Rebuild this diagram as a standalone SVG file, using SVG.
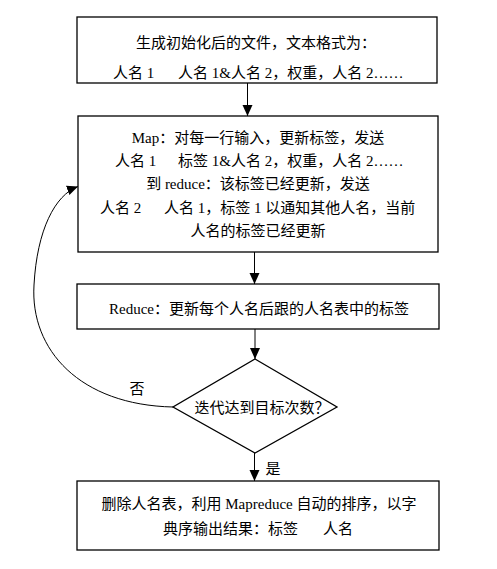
<svg xmlns="http://www.w3.org/2000/svg" width="497" height="569" viewBox="0 0 497 569">
<defs>
<marker id="ah" markerUnits="userSpaceOnUse" markerWidth="12" markerHeight="12" viewBox="0 0 12 12" refX="11" refY="6" orient="auto">
<path d="M0,1 L11,6 L0,11 Z" fill="#000"/>
</marker>
<style>
.box{fill:#fff;stroke:#000;stroke-width:1.3}
.t{font-family:'Liberation Serif','Noto Sans CJK SC',serif;font-size:15px;fill:#000}
.m{text-anchor:middle}
.c{fill:none;stroke:#000;stroke-width:1}
</style>
</defs>
<rect width="497" height="569" fill="#fff"/>
<g id="connectors">
<line class="c" x1="247.5" y1="83" x2="247.5" y2="116" marker-end="url(#ah)"/>
<line class="c" x1="254.5" y1="252" x2="254.5" y2="284" marker-end="url(#ah)"/>
<line class="c" x1="255" y1="329" x2="255" y2="359" marker-end="url(#ah)"/>
<line class="c" x1="254.5" y1="453" x2="254.5" y2="481" marker-end="url(#ah)"/>
<path class="c" d="M173,407 C80,405 30,350 34,285 C37,230 55,195 78,186.5" marker-end="url(#ah)"/>
<text class="t m" x="137" y="393.5">否</text>
<text class="t m" x="273" y="473.5">是</text>
</g>
<g id="n1">
<rect class="box" x="77" y="17" width="360" height="66"/>
<text class="t m" x="256" y="47.5">生成初始化后的文件，文本格式为：</text>
<text class="t" x="113" y="77.5">人名 1</text>
<text class="t" x="178" y="77.5">人名 1&amp;人名 2，权重，人名 2……</text>
</g>
<g id="n2">
<rect class="box" x="78" y="116" width="360" height="136"/>
<text class="t m" x="258" y="143">Map：对每一行输入，更新标签，发送</text>
<text class="t" x="115" y="165.5">人名 1</text>
<text class="t" x="178" y="165.5">标签 1&amp;人名 2，权重，人名 2……</text>
<text class="t m" x="258" y="189">到 reduce：该标签已经更新，发送</text>
<text class="t" x="100" y="212.5">人名 2</text>
<text class="t" x="164" y="212.5">人名 1，标签 1 以通知其他人名，当前</text>
<text class="t m" x="258" y="235.5">人名的标签已经更新</text>
</g>
<g id="n3">
<rect class="box" x="77" y="284" width="362" height="45"/>
<text class="t m" x="259" y="313.5">Reduce：更新每个人名后跟的人名表中的标签</text>
</g>
<g id="n4">
<polygon class="box" points="255,359 337,407 255,453 173,407"/>
<text class="t m" x="262" y="412.5">迭代达到目标次数？</text>
</g>
<g id="n5">
<rect class="box" x="77" y="481" width="362" height="69"/>
<text class="t m" x="259" y="508.5">删除人名表，利用 Mapreduce 自动的排序，以字</text>
<text class="t" x="163" y="534">典序输出结果：标签</text>
<text class="t" x="323" y="534">人名</text>
</g>
</svg>
